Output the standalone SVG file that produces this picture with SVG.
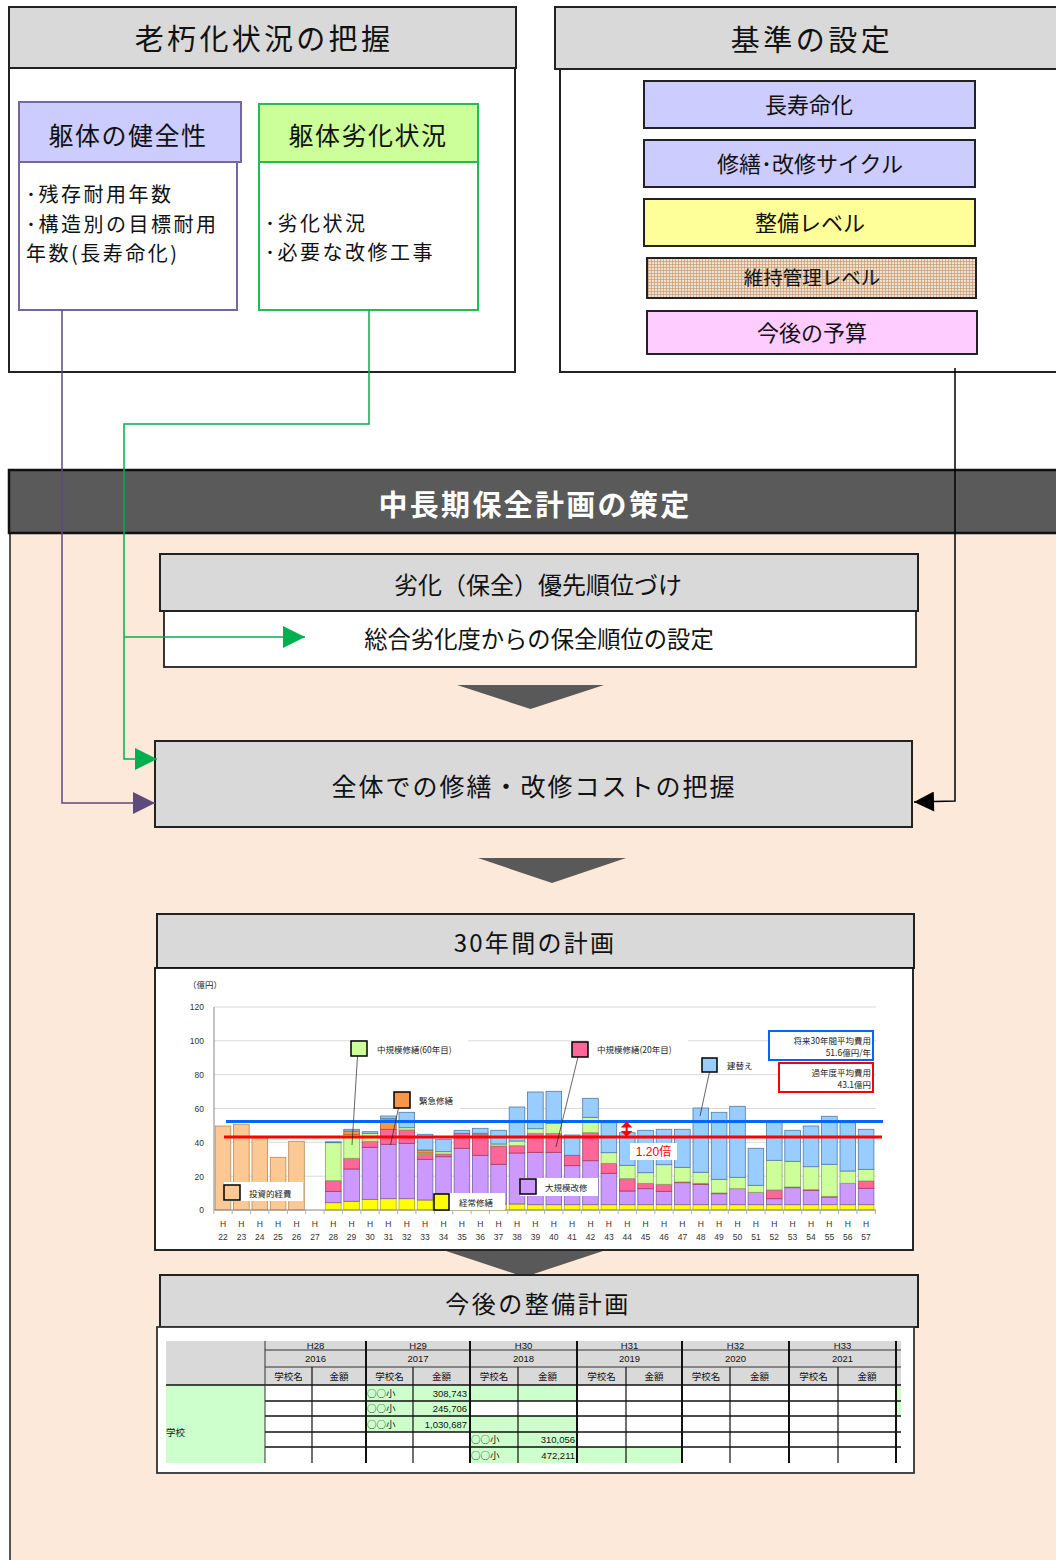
<svg xmlns="http://www.w3.org/2000/svg" width="1056" height="1560" viewBox="0 0 1056 1560">
<defs>
<style>
.jp{font-family:"Noto Sans CJK JP","Noto Sans",sans-serif;fill:#111}
.hdr{fill:#d9d9d9;stroke:#222;stroke-width:2}
.sub{fill:#fff;stroke:#222;stroke-width:1.8}
.f{fill:#fcc894;stroke:#b7895a;stroke-width:0.8}
.y{fill:#ffff00;stroke:#b5b500;stroke-width:0.8}
.p{fill:#cc99ff;stroke:#7b5ea7;stroke-width:0.8}
.k{fill:#ff6699;stroke:#a83a62;stroke-width:0.8}
.o{fill:#f79646;stroke:#a85a18;stroke-width:0.8}
.g{fill:#ccff99;stroke:#8ca865;stroke-width:0.8}
.b{fill:#99ccff;stroke:#4f7aa8;stroke-width:0.8}
.sw{stroke:#000;stroke-width:1.5}
.lg{font-family:"Noto Sans CJK JP",sans-serif;font-size:8.5px;fill:#222}
.ax{font-family:"Liberation Sans",Arial,sans-serif;font-size:8.5px;fill:#333}
.tb{font-family:"Noto Sans CJK JP",sans-serif;font-size:9.5px;fill:#111}
.tn{font-family:"Liberation Sans",Arial,sans-serif;font-size:9.5px;fill:#111}
.gc{fill:#ccffcc}
.body{font-size:20px;letter-spacing:2.5px}
</style>
<pattern id="weave" width="3" height="3" patternUnits="userSpaceOnUse">
<rect width="3" height="3" fill="#efe1cf"/>
<path d="M0,0.5H3M0.5,0V3" stroke="#c49a72" stroke-width="0.7"/>
</pattern>
<marker id="ag" viewBox="0 0 22 22" refX="22" refY="11" markerWidth="22" markerHeight="22" markerUnits="userSpaceOnUse" orient="auto"><path d="M0,0L22,11L0,22z" fill="#00b050"/></marker>
<marker id="ap" viewBox="0 0 22 22" refX="22" refY="11" markerWidth="22" markerHeight="22" markerUnits="userSpaceOnUse" orient="auto"><path d="M0,0L22,11L0,22z" fill="#604a7b"/></marker>
<marker id="ak" viewBox="0 0 22 22" refX="22" refY="11" markerWidth="22" markerHeight="20" markerUnits="userSpaceOnUse" orient="auto"><path d="M0,0L22,11L0,22z" fill="#000"/></marker>
<clipPath id="hclip"><rect x="265" y="1343" width="636" height="7"/></clipPath>
</defs>
<rect width="1056" height="1560" fill="#fff"/>

<!-- Top-left panel -->
<g id="panel-roukyuka">
<rect x="9" y="68" width="506" height="304" fill="#fff" stroke="#222" stroke-width="2"/>
<rect x="9" y="7" width="507" height="61" class="hdr"/>
<text x="264" y="50" class="jp" font-size="29" letter-spacing="3.3" text-anchor="middle">老朽化状況の把握</text>
</g>
<g id="node-kutai-kenzen">
<rect x="19" y="162" width="218" height="148" fill="#fff" stroke="#76659e" stroke-width="2"/>
<rect x="19" y="102" width="222" height="60" fill="#ccccff" stroke="#76659e" stroke-width="2"/>
<text x="128" y="145" class="jp" font-size="25" letter-spacing="1.5" text-anchor="middle">躯体の健全性</text>
<text class="jp body"><tspan x="26" y="202">･残存耐用年数</tspan><tspan x="26" y="231.5">･構造別の目標耐用</tspan><tspan x="26" y="261">年数(長寿命化)</tspan></text>
</g>
<g id="node-kutai-rekka">
<rect x="259" y="162" width="219" height="148" fill="#fff" stroke="#22bb5a" stroke-width="2"/>
<rect x="259" y="104" width="219" height="58" fill="#ccff99" stroke="#22bb5a" stroke-width="2"/>
<text x="368" y="145" class="jp" font-size="25" letter-spacing="1.5" text-anchor="middle">躯体劣化状況</text>
<text class="jp body"><tspan x="265" y="230.5">･劣化状況</tspan><tspan x="265" y="260">･必要な改修工事</tspan></text>
</g>

<!-- Top-right panel -->
<g id="panel-kijun">
<rect x="560" y="69" width="510" height="303" fill="#fff" stroke="#222" stroke-width="2"/>
<rect x="555" y="7" width="515" height="62" class="hdr"/>
<text x="812" y="51" class="jp" font-size="29" letter-spacing="3.5" text-anchor="middle">基準の設定</text>
</g>
<g id="node-chojumyo">
<rect x="644" y="81" width="331" height="47" fill="#ccccff" stroke="#222" stroke-width="2"/>
<text x="809" y="113" class="jp" font-size="22" text-anchor="middle">長寿命化</text>
</g>
<g id="node-cycle">
<rect x="644" y="140" width="331" height="47" fill="#ccccff" stroke="#222" stroke-width="2"/>
<text x="810" y="172" class="jp" font-size="22" text-anchor="middle">修繕･改修サイクル</text>
</g>
<g id="node-seibi-level">
<rect x="644" y="199" width="331" height="47" fill="#ffff99" stroke="#222" stroke-width="2"/>
<text x="810" y="231" class="jp" font-size="22" text-anchor="middle">整備レベル</text>
</g>
<g id="node-iji-level">
<rect x="647" y="258" width="329" height="40" fill="url(#weave)" stroke="#222" stroke-width="2"/>
<text x="812" y="285" class="jp" font-size="19.5" text-anchor="middle">維持管理レベル</text>
</g>
<g id="node-yosan">
<rect x="647" y="311" width="330" height="43" fill="#ffccff" stroke="#222" stroke-width="2"/>
<text x="812" y="341" class="jp" font-size="22" text-anchor="middle">今後の予算</text>
</g>

<!-- Plan panel -->
<g id="panel-plan">
<rect x="10" y="533" width="1060" height="1040" fill="#fde9d9" stroke="#444" stroke-width="1.8"/>
<rect x="9" y="470" width="1061" height="63" fill="#5a5a5a" stroke="#111" stroke-width="2.5"/>
<text x="535" y="516" font-family="Noto Sans CJK JP,sans-serif" font-weight="bold" font-size="29" fill="#fff" letter-spacing="2.3" text-anchor="middle">中長期保全計画の策定</text>
</g>

<g id="node-priority">
<rect x="164" y="611" width="752" height="56" class="sub"/>
<rect x="160" y="554" width="758" height="57" class="hdr"/>
<text x="538" y="594" class="jp" font-size="24" text-anchor="middle">劣化（保全）優先順位づけ</text>
<text x="539" y="648" class="jp" font-size="23.3" text-anchor="middle">総合劣化度からの保全順位の設定</text>
</g>
<polygon points="457,685 604,685 530.5,709" fill="#595959"/>

<g id="node-cost">
<rect x="155" y="741" width="757" height="86" class="hdr"/>
<text x="534" y="796" class="jp" font-size="25" letter-spacing="2" text-anchor="middle">全体での修繕・改修コストの把握</text>
</g>
<polygon points="478,858 626,858 552,883" fill="#595959"/>

<polygon points="446,1251 603,1251 524.5,1277" fill="#595959"/>

<!-- 30-year plan with chart -->
<g id="node-30yr">
<rect x="157" y="914" width="757" height="54" class="hdr"/>
<text x="535" y="952" class="jp" font-size="24" letter-spacing="2.3" text-anchor="middle">30年間の計画</text>
<rect x="155" y="968" width="758" height="282" fill="#fff" stroke="#111" stroke-width="1.8"/>
<g id="chart">
<text x="188" y="988" class="lg" font-size="5.5">（億円）</text>
<path d="M214,1176.2H876M214,1142.3H876M214,1108.5H876M214,1074.7H876M214,1040.8H876M214,1007H876" stroke="#d9d9d9" stroke-width="1"/>
<g class="ax" text-anchor="end">
<text x="204" y="1010">120</text><text x="204" y="1044">100</text><text x="204" y="1078">80</text><text x="204" y="1112">60</text><text x="204" y="1146">40</text><text x="204" y="1180">20</text><text x="204" y="1213">0</text>
</g>
<!-- bars -->
<g id="bars">
<rect class="f" x="215.2" y="1126" width="15.6" height="84"/>
<rect class="f" x="233.6" y="1124.3" width="15.6" height="85.7"/>
<rect class="f" x="252" y="1138" width="15.6" height="72"/>
<rect class="f" x="270.3" y="1157.3" width="15.6" height="52.7"/>
<rect class="f" x="288.7" y="1141.3" width="15.6" height="68.7"/>
<g transform="translate(325.5,0)"><rect class="y" y="1202.7" width="15.6" height="7.3"/><rect class="p" y="1191.3" width="15.6" height="11.4"/><rect class="k" y="1180.7" width="15.6" height="10.6"/><rect class="g" y="1142.7" width="15.6" height="38"/><rect class="b" y="1141.8" width="15.6" height="0.9"/></g>
<g transform="translate(343.8,0)"><rect class="y" y="1201.3" width="15.6" height="8.7"/><rect class="p" y="1169" width="15.6" height="32.3"/><rect class="k" y="1158.3" width="15.6" height="10.7"/><rect class="g" y="1134.7" width="15.6" height="23.6"/><rect class="o" y="1131" width="15.6" height="3.7"/><rect class="b" y="1129.3" width="15.6" height="1.7"/></g>
<g transform="translate(362.2,0)"><rect class="y" y="1199.3" width="15.6" height="10.7"/><rect class="p" y="1147.3" width="15.6" height="52"/><rect class="k" y="1141.3" width="15.6" height="6"/><rect class="g" y="1133.3" width="15.6" height="8"/><rect class="b" y="1131.7" width="15.6" height="1.6"/></g>
<g transform="translate(380.6,0)"><rect class="y" y="1198.7" width="15.6" height="11.3"/><rect class="p" y="1144.3" width="15.6" height="54.4"/><rect class="k" y="1129.3" width="15.6" height="15"/><rect class="o" y="1119.3" width="15.6" height="10"/><rect class="g" y="1118.3" width="15.6" height="1"/><rect class="b" y="1116" width="15.6" height="2.3"/></g>
<g transform="translate(399,0)"><rect class="y" y="1198.7" width="15.6" height="11.3"/><rect class="p" y="1143.3" width="15.6" height="55.4"/><rect class="k" y="1130" width="15.6" height="13.3"/><rect class="g" y="1127.7" width="15.6" height="2.3"/><rect class="b" y="1112.3" width="15.6" height="15.4"/></g>
<g transform="translate(417.3,0)"><rect class="y" y="1200" width="15.6" height="10"/><rect class="p" y="1159.3" width="15.6" height="40.7"/><rect class="k" y="1154.3" width="15.6" height="5"/><rect class="g" y="1153" width="15.6" height="1.3"/><rect class="o" y="1150" width="15.6" height="3"/><rect class="b" y="1134.3" width="15.6" height="15.7"/></g>
<g transform="translate(435.7,0)"><rect class="y" y="1200" width="15.6" height="10"/><rect class="p" y="1156.7" width="15.6" height="43.3"/><rect class="k" y="1154" width="15.6" height="2.7"/><rect class="g" y="1151.7" width="15.6" height="2.3"/><rect class="b" y="1139.3" width="15.6" height="12.4"/></g>
<g transform="translate(454.1,0)"><rect class="y" y="1204" width="15.6" height="6"/><rect class="p" y="1148.3" width="15.6" height="55.7"/><rect class="k" y="1133.3" width="15.6" height="15"/><rect class="b" y="1130.3" width="15.6" height="3"/></g>
<g transform="translate(472.5,0)"><rect class="y" y="1204" width="15.6" height="6"/><rect class="p" y="1155.3" width="15.6" height="48.7"/><rect class="k" y="1134" width="15.6" height="21.3"/><rect class="g" y="1133.3" width="15.6" height="0.7"/><rect class="b" y="1128.3" width="15.6" height="5"/></g>
<g transform="translate(490.8,0)"><rect class="y" y="1204" width="15.6" height="6"/><rect class="p" y="1164.3" width="15.6" height="39.7"/><rect class="k" y="1146" width="15.6" height="18.3"/><rect class="g" y="1144" width="15.6" height="2"/><rect class="b" y="1130.3" width="15.6" height="13.7"/></g>
<g transform="translate(509.2,0)"><rect class="y" y="1204" width="15.6" height="6"/><rect class="p" y="1153" width="15.6" height="51"/><rect class="k" y="1145.7" width="15.6" height="7.3"/><rect class="g" y="1141" width="15.6" height="4.7"/><rect class="b" y="1107" width="15.6" height="34"/></g>
<g transform="translate(527.6,0)"><rect class="y" y="1204.7" width="15.6" height="5.3"/><rect class="p" y="1152.3" width="15.6" height="52.4"/><rect class="k" y="1133.3" width="15.6" height="19"/><rect class="g" y="1128.7" width="15.6" height="4.6"/><rect class="b" y="1092" width="15.6" height="36.7"/></g>
<g transform="translate(546,0)"><rect class="y" y="1204.7" width="15.6" height="5.3"/><rect class="p" y="1152.3" width="15.6" height="52.4"/><rect class="k" y="1133.3" width="15.6" height="19"/><rect class="g" y="1123.3" width="15.6" height="10"/><rect class="b" y="1091.3" width="15.6" height="32"/></g>
<g transform="translate(564.3,0)"><rect class="y" y="1204.7" width="15.6" height="5.3"/><rect class="p" y="1165.7" width="15.6" height="39"/><rect class="k" y="1155.3" width="15.6" height="10.4"/><rect class="b" y="1135" width="15.6" height="20.3"/></g>
<g transform="translate(582.7,0)"><rect class="y" y="1204.7" width="15.6" height="5.3"/><rect class="p" y="1160.7" width="15.6" height="44"/><rect class="k" y="1132.7" width="15.6" height="28"/><rect class="g" y="1117.3" width="15.6" height="15.4"/><rect class="b" y="1098.3" width="15.6" height="19"/></g>
<g transform="translate(601.1,0)"><rect class="y" y="1204.7" width="15.6" height="5.3"/><rect class="p" y="1173.3" width="15.6" height="31.4"/><rect class="k" y="1163.3" width="15.6" height="10"/><rect class="g" y="1152.7" width="15.6" height="10.6"/><rect class="b" y="1121" width="15.6" height="31.7"/></g>
<g transform="translate(619.5,0)"><rect class="y" y="1204.7" width="15.6" height="5.3"/><rect class="p" y="1191" width="15.6" height="13.7"/><rect class="k" y="1178.7" width="15.6" height="12.3"/><rect class="g" y="1165.3" width="15.6" height="13.4"/><rect class="b" y="1132.7" width="15.6" height="32.6"/></g>
<g transform="translate(637.8,0)"><rect class="y" y="1204.7" width="15.6" height="5.3"/><rect class="p" y="1188.7" width="15.6" height="16"/><rect class="k" y="1183.3" width="15.6" height="5.4"/><rect class="g" y="1172.7" width="15.6" height="10.6"/><rect class="b" y="1130.3" width="15.6" height="42.4"/></g>
<g transform="translate(656.2,0)"><rect class="y" y="1204.7" width="15.6" height="5.3"/><rect class="p" y="1191.3" width="15.6" height="13.4"/><rect class="k" y="1184.3" width="15.6" height="7"/><rect class="g" y="1164.7" width="15.6" height="19.6"/><rect class="b" y="1129.3" width="15.6" height="35.4"/></g>
<g transform="translate(674.6,0)"><rect class="y" y="1204.7" width="15.6" height="5.3"/><rect class="p" y="1182.7" width="15.6" height="22"/><rect class="k" y="1182" width="15.6" height="0.7"/><rect class="g" y="1167.3" width="15.6" height="14.7"/><rect class="b" y="1129.3" width="15.6" height="38"/></g>
<g transform="translate(693,0)"><rect class="y" y="1204.7" width="15.6" height="5.3"/><rect class="p" y="1184.3" width="15.6" height="20.4"/><rect class="k" y="1183.3" width="15.6" height="1"/><rect class="g" y="1172.3" width="15.6" height="11"/><rect class="b" y="1108" width="15.6" height="64.3"/></g>
<g transform="translate(711.3,0)"><rect class="y" y="1204.7" width="15.6" height="5.3"/><rect class="p" y="1193.7" width="15.6" height="11"/><rect class="k" y="1193" width="15.6" height="0.7"/><rect class="g" y="1179.3" width="15.6" height="13.7"/><rect class="b" y="1112.3" width="15.6" height="67"/></g>
<g transform="translate(729.7,0)"><rect class="y" y="1204.7" width="15.6" height="5.3"/><rect class="p" y="1188.7" width="15.6" height="16"/><rect class="g" y="1177.3" width="15.6" height="11.4"/><rect class="b" y="1106.3" width="15.6" height="71"/></g>
<g transform="translate(748.1,0)"><rect class="y" y="1204.7" width="15.6" height="5.3"/><rect class="p" y="1192.3" width="15.6" height="12.4"/><rect class="g" y="1185.3" width="15.6" height="7"/><rect class="b" y="1148.3" width="15.6" height="37"/></g>
<g transform="translate(766.5,0)"><rect class="y" y="1204.7" width="15.6" height="5.3"/><rect class="p" y="1198.7" width="15.6" height="6"/><rect class="k" y="1190" width="15.6" height="8.7"/><rect class="g" y="1160.3" width="15.6" height="29.7"/><rect class="b" y="1121.5" width="15.6" height="38.8"/></g>
<g transform="translate(784.8,0)"><rect class="y" y="1204.7" width="15.6" height="5.3"/><rect class="p" y="1187.7" width="15.6" height="17"/><rect class="k" y="1187" width="15.6" height="0.7"/><rect class="g" y="1161.3" width="15.6" height="25.7"/><rect class="b" y="1130.3" width="15.6" height="31"/></g>
<g transform="translate(803.2,0)"><rect class="y" y="1204.7" width="15.6" height="5.3"/><rect class="p" y="1190.3" width="15.6" height="14.4"/><rect class="k" y="1189.7" width="15.6" height="0.6"/><rect class="g" y="1166.7" width="15.6" height="23"/><rect class="b" y="1126" width="15.6" height="40.7"/></g>
<g transform="translate(821.6,0)"><rect class="y" y="1204.7" width="15.6" height="5.3"/><rect class="p" y="1197" width="15.6" height="7.7"/><rect class="k" y="1196.3" width="15.6" height="0.7"/><rect class="g" y="1164.3" width="15.6" height="32"/><rect class="b" y="1116.3" width="15.6" height="48"/></g>
<g transform="translate(840,0)"><rect class="y" y="1204.7" width="15.6" height="5.3"/><rect class="p" y="1183.3" width="15.6" height="21.4"/><rect class="g" y="1171" width="15.6" height="12.3"/><rect class="b" y="1121" width="15.6" height="50"/></g>
<g transform="translate(858.3,0)"><rect class="y" y="1204.7" width="15.6" height="5.3"/><rect class="p" y="1188.3" width="15.6" height="16.4"/><rect class="k" y="1181" width="15.6" height="7.3"/><rect class="g" y="1169.3" width="15.6" height="11.7"/><rect class="b" y="1129.3" width="15.6" height="40"/></g>
</g>
<path d="M214,1007V1210H876" fill="none" stroke="#888" stroke-width="1"/>
<path d="M213.8,1210v4M232.2,1210v4M250.6,1210v4M268.9,1210v4M287.3,1210v4M305.7,1210v4M324.1,1210v4M342.4,1210v4M360.8,1210v4M379.2,1210v4M397.6,1210v4M415.9,1210v4M434.3,1210v4M452.7,1210v4M471.1,1210v4M489.4,1210v4M507.8,1210v4M526.2,1210v4M544.6,1210v4M562.9,1210v4M581.3,1210v4M599.7,1210v4M618.1,1210v4M636.4,1210v4M654.8,1210v4M673.2,1210v4M691.6,1210v4M709.9,1210v4M728.3,1210v4M746.7,1210v4M765.1,1210v4M783.4,1210v4M801.8,1210v4M820.2,1210v4M838.6,1210v4M856.9,1210v4M875.3,1210v4" stroke="#999" stroke-width="0.8"/>
<g class="ax" text-anchor="middle">
<text y="1227"><tspan x="223">H</tspan><tspan x="241.4">H</tspan><tspan x="259.8">H</tspan><tspan x="278.1">H</tspan><tspan x="296.5">H</tspan><tspan x="314.9">H</tspan><tspan x="333.3">H</tspan><tspan x="351.6">H</tspan><tspan x="370">H</tspan><tspan x="388.4">H</tspan><tspan x="406.8">H</tspan><tspan x="425.1">H</tspan><tspan x="443.5">H</tspan><tspan x="461.9">H</tspan><tspan x="480.3">H</tspan><tspan x="498.6">H</tspan><tspan x="517">H</tspan><tspan x="535.4">H</tspan><tspan x="553.8">H</tspan><tspan x="572.1">H</tspan><tspan x="590.5">H</tspan><tspan x="608.9">H</tspan><tspan x="627.3">H</tspan><tspan x="645.6">H</tspan><tspan x="664">H</tspan><tspan x="682.4">H</tspan><tspan x="700.8">H</tspan><tspan x="719.1">H</tspan><tspan x="737.5">H</tspan><tspan x="755.9">H</tspan><tspan x="774.3">H</tspan><tspan x="792.6">H</tspan><tspan x="811">H</tspan><tspan x="829.4">H</tspan><tspan x="847.8">H</tspan><tspan x="866.1">H</tspan></text>
<text y="1240"><tspan x="223">22</tspan><tspan x="241.4">23</tspan><tspan x="259.8">24</tspan><tspan x="278.1">25</tspan><tspan x="296.5">26</tspan><tspan x="314.9">27</tspan><tspan x="333.3">28</tspan><tspan x="351.6">29</tspan><tspan x="370">30</tspan><tspan x="388.4">31</tspan><tspan x="406.8">32</tspan><tspan x="425.1">33</tspan><tspan x="443.5">34</tspan><tspan x="461.9">35</tspan><tspan x="480.3">36</tspan><tspan x="498.6">37</tspan><tspan x="517">38</tspan><tspan x="535.4">39</tspan><tspan x="553.8">40</tspan><tspan x="572.1">41</tspan><tspan x="590.5">42</tspan><tspan x="608.9">43</tspan><tspan x="627.3">44</tspan><tspan x="645.6">45</tspan><tspan x="664">46</tspan><tspan x="682.4">47</tspan><tspan x="700.8">48</tspan><tspan x="719.1">49</tspan><tspan x="737.5">50</tspan><tspan x="755.9">51</tspan><tspan x="774.3">52</tspan><tspan x="792.6">53</tspan><tspan x="811">54</tspan><tspan x="829.4">55</tspan><tspan x="847.8">56</tspan><tspan x="866.1">57</tspan></text>
</g>
<!-- average lines -->
<line x1="226" y1="1121.5" x2="883" y2="1121.5" stroke="#0066ff" stroke-width="3"/>
<line x1="224" y1="1137" x2="882" y2="1137" stroke="#ff0000" stroke-width="3"/>
<path d="M626.6,1125V1133" stroke="#ff0000" stroke-width="2"/>
<path d="M626.6,1121.5L620.8,1127.5H632.4ZM626.6,1137L620.8,1131H632.4Z" fill="#ff0000"/>
<rect x="630" y="1143" width="47" height="17" fill="#fff"/>
<text x="653.5" y="1156" font-family="Liberation Sans,Noto Sans CJK JP,sans-serif" font-size="12" fill="#ff0000" text-anchor="middle">1.20倍</text>
<!-- leaders -->
<path d="M357.5,1056L352,1145M398.5,1108L390.5,1145M578,1057L556,1147M709.5,1072L700,1116" stroke="#222" stroke-width="0.7" fill="none"/>
<!-- legends -->
<rect x="367" y="1038" width="101" height="20" fill="#fff"/>
<rect x="351" y="1041" width="16" height="15" class="g sw"/>
<text x="377" y="1053" class="lg">中規模修繕(60年目)</text>
<rect x="410" y="1090" width="50" height="20" fill="#fff"/>
<rect x="394" y="1092" width="16" height="16" class="o sw"/>
<text x="419" y="1104" class="lg">緊急修繕</text>
<rect x="588" y="1039" width="100" height="19" fill="#fff"/>
<rect x="572" y="1042" width="16" height="15" class="k sw"/>
<text x="597" y="1053" class="lg">中規模修繕(20年目)</text>
<rect x="717" y="1057" width="43" height="16" fill="#fff"/>
<rect x="702" y="1058" width="15" height="14" class="b sw"/>
<text x="727" y="1069" class="lg">建替え</text>
<rect x="224" y="1182" width="79" height="19" fill="#fff"/>
<rect x="224" y="1185" width="16" height="15" class="f sw"/>
<text x="249" y="1197" class="lg">投資的経費</text>
<rect x="449" y="1193" width="56" height="17" fill="#fff"/>
<rect x="434" y="1194" width="15" height="16" class="y sw"/>
<text x="459" y="1206" class="lg">経常修繕</text>
<rect x="520" y="1178" width="78" height="18" fill="#fff"/>
<rect x="520" y="1179" width="16" height="15" class="p sw"/>
<text x="545" y="1191" class="lg">大規模改修</text>
<rect x="769" y="1031" width="104" height="29" fill="#fff" stroke="#0066ff" stroke-width="2"/>
<text class="lg" text-anchor="end"><tspan x="871" y="1044">将来30年間平均費用</tspan><tspan x="871" y="1056">51.6億円/年</tspan></text>
<rect x="779" y="1063" width="94" height="29" fill="#fff" stroke="#ff0000" stroke-width="2"/>
<text class="lg" text-anchor="end"><tspan x="871" y="1076">過年度平均費用</tspan><tspan x="871" y="1088">43.1億円</tspan></text>
</g>
</g>

<!-- Future plan with table -->
<g id="node-seibi-plan">
<rect x="160" y="1275" width="758" height="52" class="hdr"/>
<text x="538" y="1313" class="jp" font-size="24" letter-spacing="2.5" text-anchor="middle">今後の整備計画</text>
<rect x="157" y="1327" width="757" height="146" fill="#fff" stroke="#333" stroke-width="1.8"/>
<g id="table">
<rect x="166" y="1341" width="735" height="44" fill="#d9d9d9"/>
<rect x="166" y="1385" width="99" height="78" class="gc"/>
<rect x="366" y="1385" width="104" height="47" class="gc"/>
<rect x="470" y="1385" width="107" height="16" class="gc"/>
<rect x="470" y="1416" width="107" height="47" class="gc"/>
<rect x="577" y="1447" width="105" height="16" class="gc"/>
<rect x="897" y="1385" width="4" height="31" class="gc"/>
<path d="M265,1350H901M265,1367H901" stroke="#333" stroke-width="1"/>
<path d="M166,1385H901" stroke="#111" stroke-width="1.6"/>
<path d="M265,1401H901M265,1416H901M265,1432H901M265,1447H901" stroke="#111" stroke-width="1.3"/>
<path d="M265,1341V1463" stroke="#333" stroke-width="1"/>
<path d="M366,1341V1463M470,1341V1463M577,1341V1463M682,1341V1463M789,1341V1463M896,1341V1463" stroke="#111" stroke-width="2"/>
<path d="M312,1367V1463M413,1367V1463M518,1367V1463M626,1367V1463M730,1367V1463M838,1367V1463" stroke="#111" stroke-width="1.2"/>
<g clip-path="url(#hclip)" class="tn" text-anchor="middle">
<text x="315.5" y="1348.5">H28</text><text x="418" y="1348.5">H29</text><text x="523.5" y="1348.5">H30</text><text x="629.5" y="1348.5">H31</text><text x="735.5" y="1348.5">H32</text><text x="842.5" y="1348.5">H33</text>
</g>
<g class="tn" text-anchor="middle">
<text x="315.5" y="1362">2016</text><text x="418" y="1362">2017</text><text x="523.5" y="1362">2018</text><text x="629.5" y="1362">2019</text><text x="735.5" y="1362">2020</text><text x="842.5" y="1362">2021</text>
</g>
<g class="tb" text-anchor="middle">
<text x="288.5" y="1380">学校名</text><text x="339" y="1380">金額</text>
<text x="389.5" y="1380">学校名</text><text x="441.5" y="1380">金額</text>
<text x="494" y="1380">学校名</text><text x="547.5" y="1380">金額</text>
<text x="601.5" y="1380">学校名</text><text x="654" y="1380">金額</text>
<text x="706" y="1380">学校名</text><text x="759.5" y="1380">金額</text>
<text x="813.5" y="1380">学校名</text><text x="867" y="1380">金額</text>
</g>
<g class="tb">
<text><tspan x="367" y="1396.5">○○小</tspan><tspan x="367" y="1412">○○小</tspan><tspan x="367" y="1427.5">○○小</tspan></text>
<text><tspan x="471" y="1443">○○小</tspan><tspan x="471" y="1458.5">○○小</tspan></text>
<text x="166" y="1436">学校</text>
</g>
<g class="tn" text-anchor="end">
<text><tspan x="467" y="1396.5">308,743</tspan><tspan x="467" y="1412">245,706</tspan><tspan x="467" y="1427.5">1,030,687</tspan></text>
<text><tspan x="575" y="1443">310,056</tspan><tspan x="575" y="1458.5">472,211</tspan></text>
</g>
</g>
</g>

<!-- connectors -->
<g id="connectors" fill="none">
<path d="M62,310V803H155" stroke="#604a7b" stroke-width="1.5" marker-end="url(#ap)"/>
<path d="M369,310V424H124V759H157" stroke="#00b050" stroke-width="1.5" marker-end="url(#ag)"/>
<path d="M124,637H305" stroke="#00b050" stroke-width="1.5" marker-end="url(#ag)"/>
<path d="M955,368V801L914,802" stroke="#000" stroke-width="1.5" marker-end="url(#ak)"/>
</g>
</svg>
